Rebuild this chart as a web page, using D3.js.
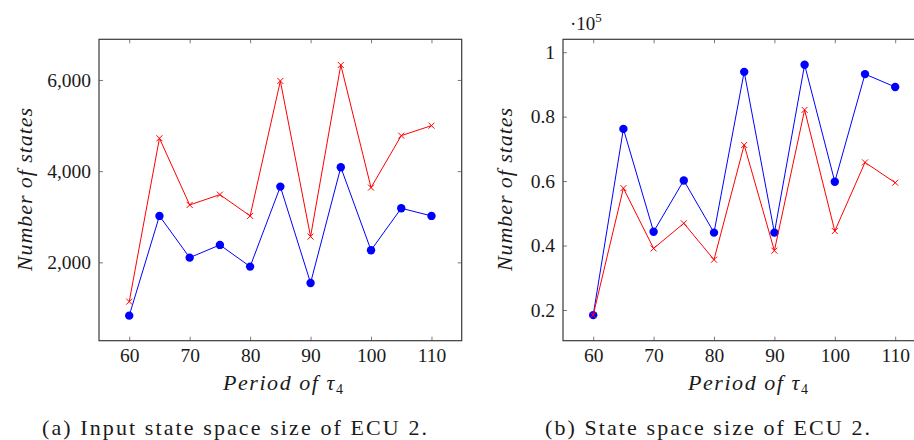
<!DOCTYPE html>
<html>
<head>
<meta charset="utf-8">
<script src="https://cdn.jsdelivr.net/npm/d3@7"></script>
<style>
  body { margin: 0; background: #fff; }
  svg { display: block; }
  text { font-family: "Liberation Serif", "DejaVu Serif", serif; fill: #1a1a1a; }
</style>
</head>
<body>
<script>
var W = 914, H = 440;

// x values (period of tau_4)
var periods = [60, 65, 70, 75, 80, 85, 90, 95, 100, 105, 110];
var xTicks = [60, 70, 80, 90, 100, 110];

// (a) input state space size
var inputBlue = [831, 3018, 2103, 2382, 1906, 3661, 1548, 4085, 2265, 3186, 3018];
var inputRed  = [1138, 4721, 3259, 3485, 3018, 5978, 2564, 6329, 3639, 4779, 4998];
var inputTicks = [2000, 4000, 6000];

// (b) state space size
var stateBlue = [18400, 76200, 44300, 60200, 44000, 93900, 44000, 96100, 59800, 93200, 89200];
var stateRed  = [18400, 57800, 39100, 46900, 35600, 71200, 38400, 82100, 44500, 65800, 59500];
var stateTicks = [20000, 40000, 60000, 80000, 100000];

var captions = ["(a) Input state space size of ECU 2.", "(b) State space size of ECU 2."];

var svg = d3.select("body").append("svg")
    .attr("width", W)
    .attr("height", H);

var plotTop = 39.3, plotBottom = 340.7;

function drawPanel(opt) {
    var x = d3.scaleLinear().domain([55, 115]).range([opt.left, opt.right]);
    var y = d3.scaleLinear().domain(opt.yDomain).range([plotBottom, plotTop]);
    var g = svg.append("g");

    // ticks inside on all four sides
    var tickColor = "#7a7a7a";
    g.append("g").attr("transform", "translate(0," + plotBottom + ")")
        .call(d3.axisBottom(x).tickValues(xTicks).tickSize(-4).tickPadding(7.5))
        .call(function (a) {
            a.select(".domain").remove();
            a.selectAll("line").attr("stroke", tickColor);
            a.selectAll("text").attr("font-size", 19.5).attr("fill", "#1a1a1a");
        });
    g.append("g").attr("transform", "translate(0," + plotTop + ")")
        .call(d3.axisTop(x).tickValues(xTicks).tickSize(-4).tickFormat(""))
        .call(function (a) {
            a.select(".domain").remove();
            a.selectAll("line").attr("stroke", tickColor);
        });
    g.append("g").attr("transform", "translate(" + opt.left + ",0)")
        .call(d3.axisLeft(y).tickValues(opt.yTicks).tickSize(-4).tickPadding(8).tickFormat(opt.fmt))
        .call(function (a) {
            a.select(".domain").remove();
            a.selectAll("line").attr("stroke", tickColor);
            a.selectAll("text").attr("font-size", 19.5).attr("fill", "#1a1a1a");
        });
    g.append("g").attr("transform", "translate(" + opt.right + ",0)")
        .call(d3.axisRight(y).tickValues(opt.yTicks).tickSize(-4).tickFormat(""))
        .call(function (a) {
            a.select(".domain").remove();
            a.selectAll("line").attr("stroke", tickColor);
        });

    g.append("rect")
        .attr("x", opt.left).attr("y", plotTop)
        .attr("width", opt.right - opt.left).attr("height", plotBottom - plotTop)
        .attr("fill", "none").attr("stroke", "#3a3a3a").attr("stroke-width", 1.2);

    var line = d3.line()
        .x(function (d, i) { return x(periods[i]); })
        .y(function (d) { return y(d); });

    // blue series
    g.append("path").datum(opt.blue)
        .attr("fill", "none").attr("stroke", "#0000ff").attr("stroke-width", 1)
        .attr("d", line);
    g.selectAll(".dot").data(opt.blue).enter().append("circle")
        .attr("cx", function (d, i) { return x(periods[i]); })
        .attr("cy", function (d) { return y(d); })
        .attr("r", 4.2)
        .attr("fill", "#0000ff");

    // red series
    g.append("path").datum(opt.red)
        .attr("fill", "none").attr("stroke", "#ff0000").attr("stroke-width", 1)
        .attr("d", line);
    var s = 3;
    opt.red.forEach(function (d, i) {
        var cx = x(periods[i]), cy = y(d);
        g.append("path")
            .attr("d", "M" + (cx - s) + "," + (cy - s) + "L" + (cx + s) + "," + (cy + s) +
                       "M" + (cx - s) + "," + (cy + s) + "L" + (cx + s) + "," + (cy - s))
            .attr("stroke", "#ff0000").attr("stroke-width", 1);
    });

    // axis titles
    var xt = g.append("text")
        .attr("x", opt.xTitleX - 60)
        .attr("y", 390)
        .attr("font-size", 22)
        .attr("textLength", 120)
        .attr("lengthAdjust", "spacing");
    xt.append("tspan").attr("font-style", "italic").text("Period of τ");
    xt.append("tspan").attr("font-size", 14).attr("dy", 4).text("4");

    g.append("text")
        .attr("transform", "translate(" + opt.yTitleX + "," + ((plotTop + plotBottom) / 2 + 81) + ") rotate(-90)")
        .attr("font-size", 22)
        .attr("font-style", "italic")
        .attr("textLength", 163)
        .attr("lengthAdjust", "spacing")
        .text("Number of states");

    g.append("text")
        .attr("x", opt.capX - opt.capW / 2).attr("y", 435)
        .attr("font-size", 22)
        .attr("textLength", opt.capW)
        .attr("lengthAdjust", "spacing")
        .text(opt.caption);

    return g;
}

drawPanel({
    left: 99, right: 461.7,
    yDomain: [281, 6892], yTicks: inputTicks, fmt: d3.format(","),
    blue: inputBlue, red: inputRed,
    yTitleX: 32, capX: 234.5, capW: 385, caption: captions[0], xTitleX: 283
});

var gb = drawPanel({
    left: 563, right: 925.4,
    yDomain: [10470, 104000], yTicks: stateTicks,
    fmt: function (v) { return d3.format("~g")(v / 1e5); },
    blue: stateBlue, red: stateRed,
    yTitleX: 512, capX: 707.5, capW: 325, caption: captions[1], xTitleX: 748
});

var sc = gb.append("text").attr("x", 570).attr("y", 30).attr("font-size", 19);
sc.append("tspan").text("·10");
sc.append("tspan").attr("font-size", 13).attr("dy", -8).text("5");
</script>
</body>
</html>
